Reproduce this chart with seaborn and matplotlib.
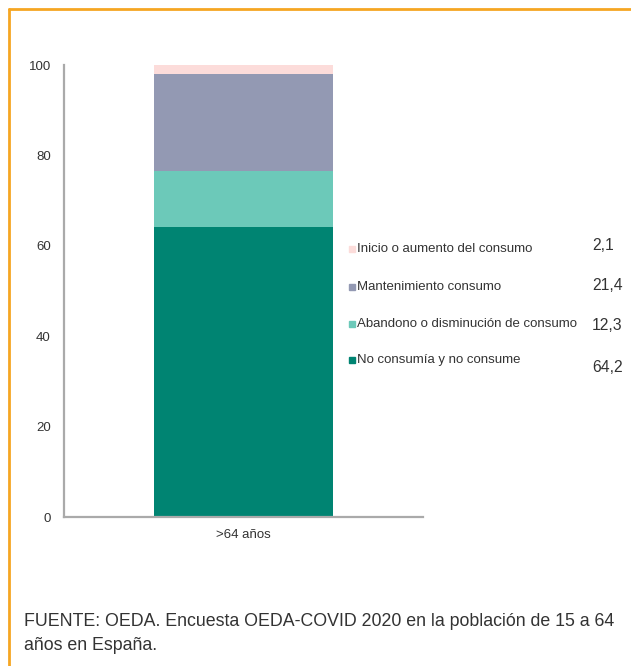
import matplotlib
matplotlib.use("Agg")
import matplotlib.pyplot as plt
import seaborn as sns
import pandas as pd
from matplotlib.patches import Rectangle
from matplotlib.lines import Line2D

categories = ["No consumía y no consume", "Abandono o disminución de consumo",
              "Mantenimiento consumo", "Inicio o aumento del consumo"]
values = [64.2, 12.3, 21.4, 2.1]
value_labels = ["64,2", "12,3", "21,4", "2,1"]
colors = ["#008472", "#6CC9B9", "#9399B3", "#FCDCDA"]
group = [">64 años"]
yticks = [0, 20, 40, 60, 80, 100]

sns.set_theme(style="white")
plt.rcParams['font.family'] = ['Liberation Sans', 'DejaVu Sans']

fig = plt.figure(figsize=(6.31, 6.66), dpi=100)
ax = fig.add_axes([64/631, 1-517/666, 359/631, 452/666])

# cumulative stacks, drawn from top layer down
cum = []
s = 0
for v in values:
    s += v
    cum.append(s)
for i in range(len(values) - 1, -1, -1):
    df = pd.DataFrame({"g": group, "v": [cum[i]]})
    sns.barplot(data=df, x="g", y="v", color=colors[i], width=0.5,
                saturation=1, ax=ax, linewidth=0)

ax.set_xlim(-0.5, 0.5)
ax.set_ylim(0, 100)
ax.set_yticks(yticks)
ax.set_xlabel("")
ax.set_ylabel("")
for sp in ["top", "right"]:
    ax.spines[sp].set_visible(False)
for sp in ["left", "bottom"]:
    ax.spines[sp].set_color("#aaaaaa")
    ax.spines[sp].set_linewidth(1.6)
ax.tick_params(axis="both", length=0, labelsize=9.5, colors="#333333")
ax.tick_params(axis="y", pad=9.5)
ax.tick_params(axis="x", pad=9)

# legend (manual, top to bottom)
leg_y = [249, 287, 324, 360]
val_y = [245, 285, 326, 367]
order = [3, 2, 1, 0]
for k, i in enumerate(order):
    yy = 1 - leg_y[k]/666
    fig.patches.append(Rectangle((349/631, yy - 3/666), 6/631, 6/666,
                                 transform=fig.transFigure, color=colors[i]))
    fig.text(357/631, yy, categories[i], ha="left", va="center",
             fontsize=9.5, color="#333333")
    fig.text(592/631, 1 - val_y[k]/666, value_labels[i], ha="left", va="center",
             fontsize=11.3, color="#333333")

fig.text(24/631, 1 - 621/666, "FUENTE: OEDA. Encuesta OEDA-COVID 2020 en la población de 15 a 64",
         ha="left", va="center", fontsize=12.8, color="#333333")
fig.text(24/631, 1 - 645/666, "años en España.",
         ha="left", va="center", fontsize=12.8, color="#333333")

# orange frame
orange = "#F5A623"
fig.add_artist(Line2D([9/631, 1], [1 - 9/666, 1 - 9/666], transform=fig.transFigure,
                      color=orange, linewidth=2))
fig.add_artist(Line2D([9/631, 9/631], [0, 1 - 9/666], transform=fig.transFigure,
                      color=orange, linewidth=2))

fig.savefig("out.png", dpi=100)
